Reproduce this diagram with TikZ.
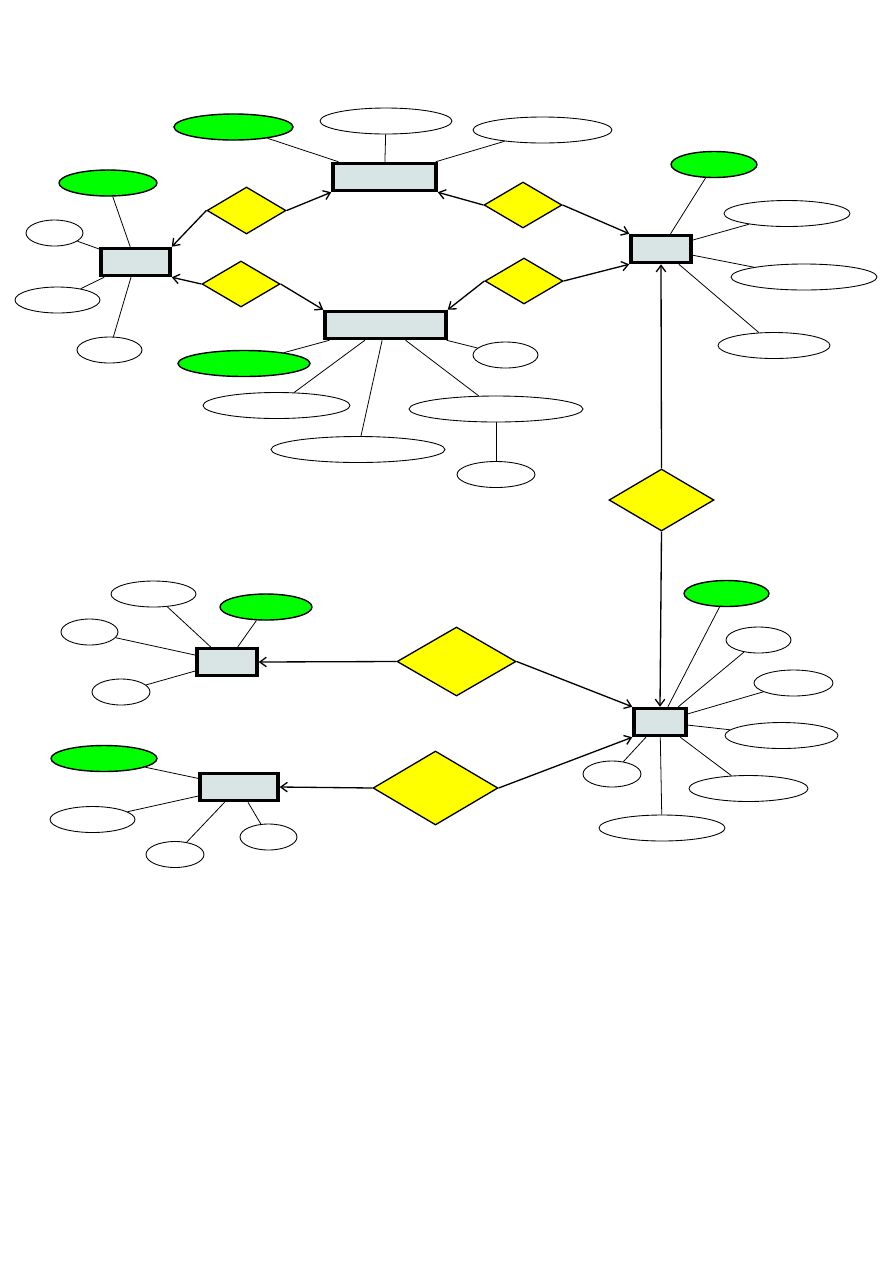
\documentclass[tikz,border=0pt]{standalone}
\usetikzlibrary{arrows.meta,shapes.geometric}
\definecolor{entfill}{RGB}{217,228,228}
\definecolor{keygreen}{RGB}{0,255,0}
\definecolor{relyellow}{RGB}{255,255,0}
\begin{document}
\begin{tikzpicture}[x=0.02cm,y=-0.02cm]
\tikzset{
  entity/.style={rectangle,draw=black,line width=2pt,fill=entfill,minimum height=0.54cm,inner sep=0pt},
  relation/.style={diamond,draw=black,line width=0.75pt,fill=relyellow,inner sep=0pt},
  attrib/.style={ellipse,draw=black,line width=0.5pt,fill=white,minimum height=0.52cm,inner sep=0pt},
  keyattrib/.style={attrib,fill=keygreen,line width=0.8pt},
  attredge/.style={draw=black,line width=0.45pt},
  reledge/.style={draw=black,line width=0.75pt,-{Straight Barb[length=1.3mm,width=1.9mm]}}
}
\useasboundingbox (0,0) rectangle (893,1262);
\node[entity,minimum width=2.06cm] (n_e1) at (384.5,177) {};
\node[entity,minimum width=1.38cm] (n_e2) at (135.5,262) {};
\node[entity,minimum width=2.42cm] (n_e3) at (385.5,325) {};
\node[entity,minimum width=1.2cm] (n_e4) at (661,249) {};
\node[entity,minimum width=1.04cm] (n_e5) at (660,722) {};
\node[entity,minimum width=1.2cm] (n_e6) at (227,662) {};
\node[entity,minimum width=1.56cm] (n_e7) at (239,787) {};
\node[relation,minimum width=1.58cm,minimum height=0.94cm] (n_r1) at (246.5,210.5) {};
\node[relation,minimum width=1.56cm,minimum height=0.92cm] (n_r2) at (241,284) {};
\node[relation,minimum width=1.56cm,minimum height=0.92cm] (n_r3) at (523,205) {};
\node[relation,minimum width=1.56cm,minimum height=0.92cm] (n_r4) at (524,281) {};
\node[relation,minimum width=2.1cm,minimum height=1.24cm] (n_r5) at (661.5,500) {};
\node[relation,minimum width=2.38cm,minimum height=1.38cm] (n_r6) at (456.5,661.5) {};
\node[relation,minimum width=2.5cm,minimum height=1.48cm] (n_r7) at (435.5,788) {};
\node[keyattrib,minimum width=2.38cm] (n_a1k) at (233.5,127) {};
\node[attrib,minimum width=2.64cm] (n_a1a) at (386,121) {};
\node[attrib,minimum width=2.78cm] (n_a1b) at (542.5,130) {};
\node[keyattrib,minimum width=1.96cm] (n_a2k) at (108,183) {};
\node[attrib,minimum width=1.14cm] (n_a2a) at (54.5,233) {};
\node[attrib,minimum width=1.7cm] (n_a2b) at (57.5,300) {};
\node[attrib,minimum width=1.3cm] (n_a2c) at (109.5,350) {};
\node[keyattrib,minimum width=2.64cm] (n_a3k) at (244,363.5) {};
\node[attrib,minimum width=2.94cm] (n_a3a) at (276.5,405.5) {};
\node[attrib,minimum width=3.48cm] (n_a3b) at (358,449.5) {};
\node[attrib,minimum width=3.48cm] (n_a3c) at (496,409) {};
\node[attrib,minimum width=1.3cm] (n_a3d) at (505.5,355) {};
\node[attrib,minimum width=1.56cm] (n_a3e) at (496,474.5) {};
\node[keyattrib,minimum width=1.72cm] (n_a4k) at (714,164.5) {};
\node[attrib,minimum width=2.52cm] (n_a4a) at (787,213.5) {};
\node[attrib,minimum width=2.92cm] (n_a4b) at (804,277) {};
\node[attrib,minimum width=2.24cm] (n_a4c) at (774,345.5) {};
\node[keyattrib,minimum width=1.7cm] (n_a5k) at (726.5,593.5) {};
\node[attrib,minimum width=1.3cm] (n_a5a) at (758.5,640) {};
\node[attrib,minimum width=1.58cm] (n_a5b) at (793.5,683) {};
\node[attrib,minimum width=2.26cm] (n_a5c) at (781.5,735.5) {};
\node[attrib,minimum width=2.38cm] (n_a5d) at (748.5,788.5) {};
\node[attrib,minimum width=2.52cm] (n_a5e) at (662,828) {};
\node[attrib,minimum width=1.16cm] (n_a5f) at (612,774) {};
\node[keyattrib,minimum width=1.84cm] (n_a6k) at (266,607) {};
\node[attrib,minimum width=1.7cm] (n_a6a) at (153.5,594) {};
\node[attrib,minimum width=1.14cm] (n_a6b) at (89.5,632) {};
\node[attrib,minimum width=1.16cm] (n_a6c) at (121,692) {};
\node[keyattrib,minimum width=2.12cm] (n_a7k) at (104,758.5) {};
\node[attrib,minimum width=1.7cm] (n_a7a) at (92.5,819.5) {};
\node[attrib,minimum width=1.16cm] (n_a7b) at (175,854.5) {};
\node[attrib,minimum width=1.14cm] (n_a7c) at (268.5,837) {};
\draw[attredge] (n_a1k) -- (n_e1);
\draw[attredge] (n_a1a) -- (n_e1);
\draw[attredge] (n_a1b) -- (n_e1);
\draw[attredge] (n_a2k) -- (n_e2);
\draw[attredge] (n_a2a) -- (n_e2);
\draw[attredge] (n_a2b) -- (n_e2);
\draw[attredge] (n_a2c) -- (n_e2);
\draw[attredge] (n_a3k) -- (n_e3);
\draw[attredge] (n_a3a) -- (n_e3);
\draw[attredge] (n_a3b) -- (n_e3);
\draw[attredge] (n_a3c) -- (n_e3);
\draw[attredge] (n_a3d) -- (n_e3);
\draw[attredge] (n_a3e) -- (n_a3c);
\draw[attredge] (n_a4k) -- (n_e4);
\draw[attredge] (n_a4a) -- (n_e4);
\draw[attredge] (n_a4b) -- (n_e4);
\draw[attredge] (n_a4c) -- (n_e4);
\draw[attredge] (n_a5k) -- (n_e5);
\draw[attredge] (n_a5a) -- (n_e5);
\draw[attredge] (n_a5b) -- (n_e5);
\draw[attredge] (n_a5c) -- (n_e5);
\draw[attredge] (n_a5d) -- (n_e5);
\draw[attredge] (n_a5e) -- (n_e5);
\draw[attredge] (n_a5f) -- (n_e5);
\draw[attredge] (n_a6k) -- (n_e6);
\draw[attredge] (n_a6a) -- (n_e6);
\draw[attredge] (n_a6b) -- (n_e6);
\draw[attredge] (n_a6c) -- (n_e6);
\draw[attredge] (n_a7k) -- (n_e7);
\draw[attredge] (n_a7a) -- (n_e7);
\draw[attredge] (n_a7b) -- (n_e7);
\draw[attredge] (n_a7c) -- (n_e7);
\draw[reledge] (n_r1.west) -- (n_e2.north east);
\draw[reledge] (n_r1.east) -- (n_e1.south west);
\draw[reledge] (n_r2.west) -- (n_e2.south east);
\draw[reledge] (n_r2.east) -- (n_e3.north west);
\draw[reledge] (n_r3.west) -- (n_e1.south east);
\draw[reledge] (n_r3.east) -- (n_e4.north west);
\draw[reledge] (n_r4.west) -- (n_e3.north east);
\draw[reledge] (n_r4.east) -- (n_e4.south west);
\draw[reledge] (n_r5.north) -- (n_e4.south);
\draw[reledge] (n_r5.south) -- (n_e5.north);
\draw[reledge] (n_r6.west) -- (n_e6.east);
\draw[reledge] (n_r6.east) -- (n_e5.north west);
\draw[reledge] (n_r7.west) -- (n_e7.east);
\draw[reledge] (n_r7.east) -- (n_e5.south west);
\end{tikzpicture}
\end{document}
